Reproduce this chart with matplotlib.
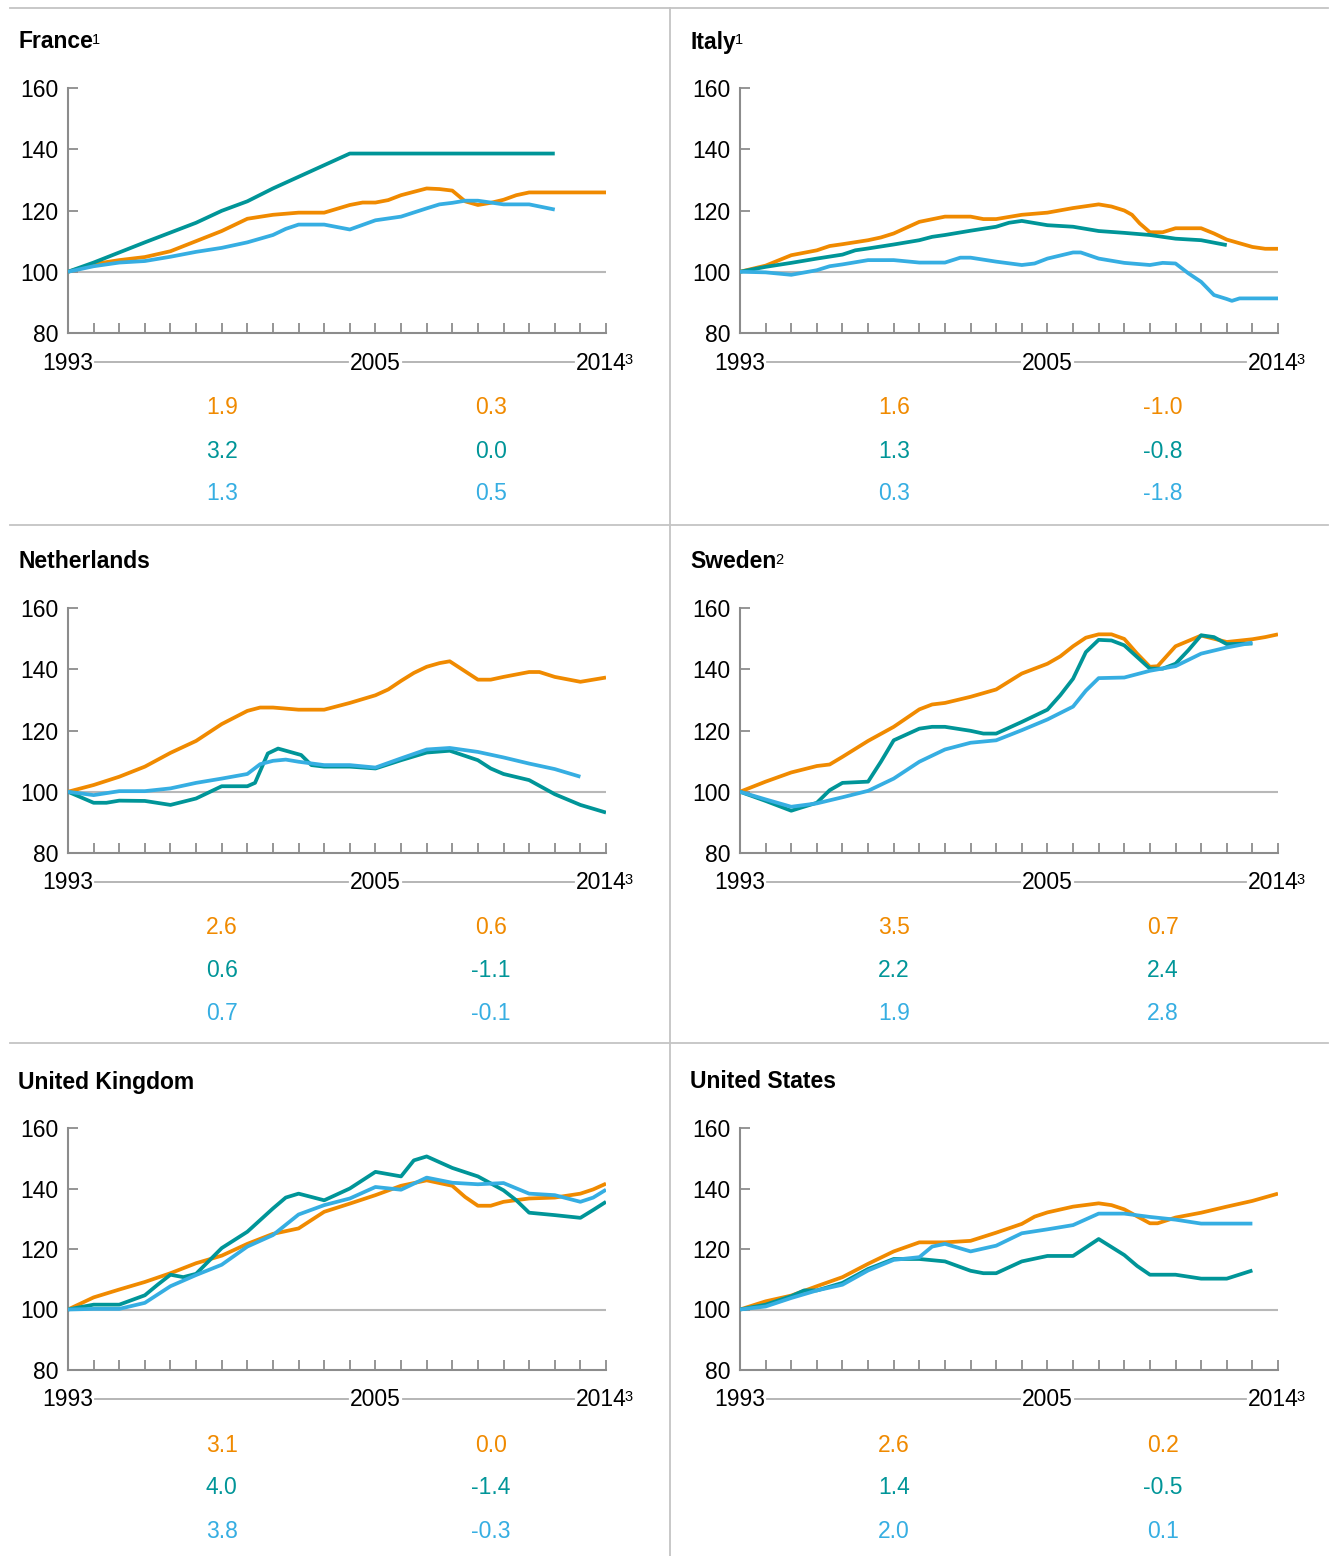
import matplotlib
matplotlib.use("Agg")
import matplotlib.pyplot as plt
from matplotlib.lines import Line2D
from matplotlib.transforms import blended_transform_factory

plt.rcParams['font.family'] = ['Liberation Sans', 'DejaVu Sans']

# colours of the three series
ORANGE = '#f08a00'
TEAL = '#009598'
BLUE = '#36aee2'
GREY = '#8c8c8c'

# index values (1993 = 100) as (year, value)
FR_ORANGE = [(1993, 100), (1994, 102.5), (1995, 103.8), (1996, 104.8), (1997, 106.7), (1998, 110), (1999, 113.3),
             (2000, 117.3), (2001, 118.6), (2002, 119.3), (2003, 119.3), (2004, 121.8), (2004.5, 122.6),
             (2005, 122.6), (2005.5, 123.4), (2006, 125), (2007, 127.2), (2007.5, 127), (2008, 126.5),
             (2008.5, 123), (2009, 121.8), (2009.5, 122.5), (2010, 123.5), (2010.5, 125), (2011, 125.9),
             (2014, 125.9)]
FR_TEAL = [(1993, 100), (1994, 103), (1995, 106.3), (1996, 109.6), (1997, 112.8), (1998, 116), (1999, 119.9),
           (2000, 123), (2001, 127.2), (2002, 131), (2003, 134.8), (2004, 138.6), (2012, 138.6)]
FR_BLUE = [(1993, 100), (1994, 101.8), (1995, 103), (1996, 103.5), (1997, 104.9), (1998, 106.5), (1999, 107.8),
           (2000, 109.6), (2001, 112), (2001.5, 114), (2002, 115.4), (2003, 115.4), (2004, 113.8), (2005, 116.8),
           (2006, 118), (2007, 120.7), (2007.5, 122), (2008, 122.5), (2008.5, 123.2), (2009, 123.2),
           (2010, 122), (2011, 122), (2012, 120.3)]

IT_ORANGE = [(1993, 100), (1994, 102), (1995, 105.4), (1996, 107), (1996.5, 108.4), (1997, 109), (1998, 110.3),
             (1998.5, 111.2), (1999, 112.5), (2000, 116.3), (2001, 118), (2002, 118), (2002.5, 117.2),
             (2003, 117.2), (2004, 118.6), (2005, 119.3), (2006, 120.8), (2007, 122), (2007.5, 121.3),
             (2008, 120), (2008.3, 118.6), (2008.6, 115.8), (2009, 112.9), (2009.5, 112.9), (2010, 114.2),
             (2011, 114.2), (2011.5, 112.5), (2012, 110.5), (2013, 108.1), (2013.5, 107.5), (2014, 107.5)]
IT_TEAL = [(1993, 100), (1994, 101.6), (1995, 102.9), (1996, 104.3), (1997, 105.6), (1997.5, 107), (1998, 107.6),
           (1999, 108.9), (2000, 110.3), (2000.5, 111.4), (2001, 112), (2002, 113.4), (2003, 114.7),
           (2003.5, 116), (2004, 116.6), (2005, 115.2), (2006, 114.7), (2007, 113.3), (2008, 112.7),
           (2009, 112), (2010, 110.8), (2011, 110.3), (2012, 108.7)]
IT_BLUE = [(1993, 100), (1994, 99.8), (1995, 99), (1996, 100.5), (1996.5, 101.8), (1997, 102.4), (1998, 103.8),
           (1999, 103.8), (2000, 103), (2001, 103), (2001.6, 104.6), (2002, 104.6), (2003, 103.3), (2004, 102.2),
           (2004.5, 102.7), (2005, 104.3), (2006, 106.3), (2006.3, 106.3), (2007, 104.3), (2008, 102.9),
           (2009, 102.2), (2009.5, 102.9), (2010, 102.7), (2010.5, 99.5), (2011, 96.7), (2011.5, 92.4),
           (2012, 91.1), (2012.2, 90.5), (2012.5, 91.3), (2014, 91.3)]

NL_ORANGE = [(1993, 100), (1994, 102.2), (1995, 104.9), (1996, 108.2), (1997, 112.7), (1998, 116.6), (1999, 122.1),
             (2000, 126.4), (2000.5, 127.5), (2001, 127.5), (2002, 126.8), (2003, 126.8), (2004, 129),
             (2005, 131.5), (2005.5, 133.4), (2006, 136.2), (2006.5, 138.8), (2007, 140.8), (2007.5, 142),
             (2007.9, 142.6), (2009, 136.6), (2009.5, 136.6), (2010, 137.5), (2011, 139.1), (2011.4, 139.1),
             (2012, 137.5), (2013, 135.9), (2014, 137.3)]
NL_TEAL = [(1993, 100), (1994, 96.4), (1994.5, 96.4), (1995, 97.1), (1996, 97), (1997, 95.7), (1998, 97.8),
           (1999, 101.8), (2000, 101.8), (2000.3, 102.9), (2000.8, 112.5), (2001.2, 114.1), (2002.1, 112),
           (2002.5, 108.7), (2003, 108.2), (2004, 108.2), (2005, 107.6), (2006, 110.3), (2007, 112.8),
           (2007.9, 113.4), (2009, 110.3), (2009.5, 107.6), (2010, 105.8), (2011, 103.8), (2012, 99.2),
           (2013, 95.7), (2014, 93.2)]
NL_BLUE = [(1993, 100), (1994, 98.9), (1995, 100.2), (1996, 100.2), (1997, 101.1), (1998, 102.9), (1999, 104.3),
           (2000, 105.8), (2000.5, 109), (2001, 110.1), (2001.5, 110.5), (2002, 109.8), (2003, 108.7),
           (2004, 108.7), (2005, 107.9), (2006, 110.9), (2007, 113.8), (2007.9, 114.3), (2009, 113),
           (2010, 111.2), (2011, 109.2), (2012, 107.4), (2013, 104.9)]

SE_ORANGE = [(1993, 100), (1994, 103.3), (1995, 106.3), (1996, 108.4), (1996.5, 108.9), (1997, 111.4), (1998, 116.6),
             (1999, 121.2), (2000, 126.9), (2000.5, 128.5), (2001, 129), (2002, 131), (2003, 133.4), (2004, 138.6),
             (2005, 141.8), (2005.5, 144.2), (2006, 147.5), (2006.5, 150.3), (2007, 151.4), (2007.5, 151.4),
             (2008, 149.9), (2008.5, 145.1), (2009, 140.8), (2009.3, 141), (2010, 147.5), (2011, 151),
             (2012, 148.9), (2013, 149.8), (2013.5, 150.5), (2014, 151.4)]
SE_TEAL = [(1993, 100), (1994, 97), (1995, 93.8), (1995.3, 94.6), (1996, 96.4), (1996.5, 100.5), (1997, 102.9),
           (1998, 103.3), (1998.5, 109.8), (1999, 116.8), (2000, 120.6), (2000.5, 121.2), (2001, 121.2),
           (2002, 119.9), (2002.5, 119), (2003, 119), (2004, 122.8), (2005, 126.8), (2005.5, 131.5),
           (2006, 136.9), (2006.5, 145.6), (2007, 149.6), (2007.5, 149.4), (2008, 147.8), (2008.5, 144),
           (2009, 140.2), (2009.5, 140.2), (2010, 141.8), (2010.5, 146.2), (2011, 151.1), (2011.5, 150.5),
           (2012, 148.2), (2013, 148.4)]
SE_BLUE = [(1993, 100), (1994, 97.5), (1995, 95.1), (1996, 96.2), (1997, 98.2), (1998, 100.3), (1999, 104.3),
           (2000, 109.8), (2001, 113.8), (2002, 116), (2003, 116.8), (2004, 120.1), (2005, 123.6), (2006, 127.8),
           (2006.5, 133), (2007, 137.1), (2008, 137.3), (2009, 139.5), (2010, 141), (2011, 145.1),
           (2012, 147.1), (2013, 148.7)]

UK_ORANGE = [(1993, 100), (1994, 104), (1995, 106.6), (1996, 109.1), (1997, 112), (1998, 115.3), (1999, 117.8),
             (2000, 121.7), (2001, 125), (2002, 126.8), (2003, 132.3), (2004, 135), (2005, 137.8), (2006, 140.9),
             (2007, 142.7), (2008, 140.9), (2008.5, 137.2), (2009, 134.3), (2009.5, 134.3), (2010, 135.6),
             (2011, 136.7), (2012, 137), (2013, 138.3), (2013.5, 139.7), (2014, 141.6)]
UK_TEAL = [(1993, 100), (1994, 101.6), (1995, 101.6), (1996, 104.7), (1996.5, 108.2), (1997, 111.5),
           (1997.5, 110.7), (1998, 111.8), (1999, 120.3), (2000, 125.7), (2001, 133.4), (2001.5, 137),
           (2002, 138.3), (2003, 136.1), (2004, 140), (2005, 145.5), (2006, 144), (2006.5, 149.3), (2007, 150.6),
           (2008, 146.8), (2009, 144), (2010, 139.4), (2010.5, 136.1), (2011, 132), (2012, 131.2), (2013, 130.3),
           (2013.5, 132.9), (2014, 135.6)]
UK_BLUE = [(1993, 100), (1994, 100.2), (1995, 100.2), (1996, 102.2), (1997, 107.7), (1998, 111.4), (1999, 114.8),
           (2000, 120.8), (2001, 124.6), (2002, 131.4), (2003, 134.5), (2004, 136.7), (2005, 140.5),
           (2006, 139.6), (2007, 143.6), (2008, 141.9), (2009, 141.4), (2010, 141.8), (2011, 138.3),
           (2012, 137.8), (2013, 135.6), (2013.5, 137), (2014, 139.6)]

US_ORANGE = [(1993, 100), (1994, 102.7), (1995, 104.6), (1996, 107.7), (1997, 110.7), (1998, 115.1), (1999, 119.2),
             (2000, 122.2), (2001, 122.2), (2002, 122.7), (2003, 125.4), (2004, 128.3), (2004.5, 130.7),
             (2005, 132.1), (2006, 134), (2007, 135.1), (2007.5, 134.5), (2008, 133.1), (2009, 128.5),
             (2009.3, 128.5), (2010, 130.4), (2011, 132), (2012, 134), (2013, 135.9), (2014, 138.3)]
US_TEAL = [(1993, 100), (1994, 101.6), (1995, 104.4), (1995.5, 106.3), (1996, 106.3), (1997, 108.8), (1998, 113.4),
           (1999, 116.7), (2000, 116.7), (2001, 115.9), (2002, 112.8), (2002.5, 112), (2003, 112), (2004, 115.9),
           (2005, 117.7), (2006, 117.7), (2007, 123.3), (2008, 118), (2008.5, 114.4), (2009, 111.5),
           (2010, 111.5), (2011, 110.2), (2012, 110.2), (2013, 112.9)]
US_BLUE = [(1993, 100), (1994, 101), (1995, 103.8), (1996, 106.3), (1997, 108.2), (1998, 112.9), (1999, 116.4),
           (2000, 117.3), (2000.5, 120.8), (2001, 121.7), (2002, 119.2), (2003, 121.1), (2004, 125.2),
           (2005, 126.5), (2006, 127.9), (2007, 131.7), (2008, 131.7), (2009, 130.6), (2010, 129.7),
           (2011, 128.4), (2012, 128.4), (2013, 128.4)]

# growth figures printed under each panel: rows orange/teal/blue, columns left/right
FR_RATES = [("1.9", "0.3"), ("3.2", "0.0"), ("1.3", "0.5")]
IT_RATES = [("1.6", "-1.0"), ("1.3", "-0.8"), ("0.3", "-1.8")]
NL_RATES = [("2.6", "0.6"), ("0.6", "-1.1"), ("0.7", "-0.1")]
SE_RATES = [("3.5", "0.7"), ("2.2", "2.4"), ("1.9", "2.8")]
UK_RATES = [("3.1", "0.0"), ("4.0", "-1.4"), ("3.8", "-0.3")]
US_RATES = [("2.6", "0.2"), ("1.4", "-0.5"), ("2.0", "0.1")]

YEAR_LABELS = ["1993", "2005", "2014"]

panels = [
    ("France", "1", 0, 0, [FR_ORANGE, FR_TEAL, FR_BLUE], FR_RATES),
    ("Italy", "1", 1, 0, [IT_ORANGE, IT_TEAL, IT_BLUE], IT_RATES),
    ("Netherlands", "", 0, 1, [NL_ORANGE, NL_TEAL, NL_BLUE], NL_RATES),
    ("Sweden", "2", 1, 1, [SE_ORANGE, SE_TEAL, SE_BLUE], SE_RATES),
    ("United Kingdom", "", 0, 2, [UK_ORANGE, UK_TEAL, UK_BLUE], UK_RATES),
    ("United States", "", 1, 2, [US_ORANGE, US_TEAL, US_BLUE], US_RATES),
]
colors = [ORANGE, TEAL, BLUE]
FS = 16.5      # main text size
FS_SUP = 10.5  # footnote marks

W, H = 1330, 1556
fig = plt.figure(figsize=(W / 100, H / 100), dpi=100)
renderer = fig.canvas.get_renderer()

# panel separators
sep = '#c4c4c4'
for yy in [8, 525, 1043]:
    fig.add_artist(Line2D([10 / W, 1328 / W], [1 - yy / H, 1 - yy / H], transform=fig.transFigure,
                          color=sep, lw=1.3))
fig.add_artist(Line2D([670 / W, 670 / W], [1 - 8 / H, 0], transform=fig.transFigure, color=sep, lw=1.3))

for name, sup, col, row, series, rates in panels:
    left = 68 if col == 0 else 740
    top = 88 + row * 520
    h = 245 if row < 2 else 242
    ax = fig.add_axes([left / W, 1 - (top + h) / H, 538 / W, h / H])
    ax.set_xlim(1993, 2014)
    ax.set_ylim(80, 160)
    for s in ['top', 'right']:
        ax.spines[s].set_visible(False)
    for s in ['left', 'bottom']:
        ax.spines[s].set_color(GREY)
        ax.spines[s].set_linewidth(1.5)
    ax.set_yticks([80, 100, 120, 140, 160])
    ax.set_xticks(range(1993, 2015))
    ax.set_xticklabels([])
    ax.tick_params(direction='in', length=7, width=1.3, color=GREY, labelsize=FS, pad=7)
    ax.axhline(100, color='#b8b8b8', lw=1.5, zorder=1)

    for pts, c in zip(series, colors):
        xs, ys = zip(*pts)
        ax.plot(xs, ys, color=c, lw=2.7, solid_joinstyle='round', solid_capstyle='butt', zorder=3)

    # title with footnote mark
    t = fig.text((left - 50) / W, 1 - (top - 46) / H, name, fontsize=FS, fontweight='bold',
                 ha='left', va='center')
    if sup:
        ax.annotate(sup, xy=(1, 0.9), xycoords=t, xytext=(-0.5, 0), textcoords='offset points',
                    fontsize=FS_SUP, ha='left', va='top')

    # year labels joined by a thin line; the last one carries footnote 3
    tr = blended_transform_factory(ax.transData, ax.transAxes)
    ylab = -30 / h
    shift = [0, 0, -0.2]
    texts = []
    for lab, dx in zip(YEAR_LABELS, shift):
        texts.append(ax.text(int(lab) + dx, ylab, lab, ha='center', va='center', fontsize=FS, transform=tr))
    ax.annotate("3", xy=(1, 0.95), xycoords=texts[-1], xytext=(-1.5, 0), textcoords='offset points',
                fontsize=FS_SUP, ha='left', va='top')
    inv = ax.transData.inverted()
    for a, b in zip(texts[:-1], texts[1:]):
        x0 = inv.transform((a.get_window_extent(renderer).x1 + 2, 0))[0]
        x1 = inv.transform((b.get_window_extent(renderer).x0 - 2, 0))[0]
        ax.add_line(Line2D([x0, x1], [ylab + 1 / h, ylab + 1 / h], transform=tr, color='#b0b0b0',
                           lw=1.3, clip_on=False))

    # growth figures
    for i, (r_left, r_right) in enumerate(rates):
        yy = -(75 + 43 * i) / h
        ax.text(1999, yy, r_left, color=colors[i], ha='center', va='center', fontsize=FS, transform=tr)
        ax.text(2009.5, yy, r_right, color=colors[i], ha='center', va='center', fontsize=FS, transform=tr)

fig.savefig('out.png', dpi=100)
